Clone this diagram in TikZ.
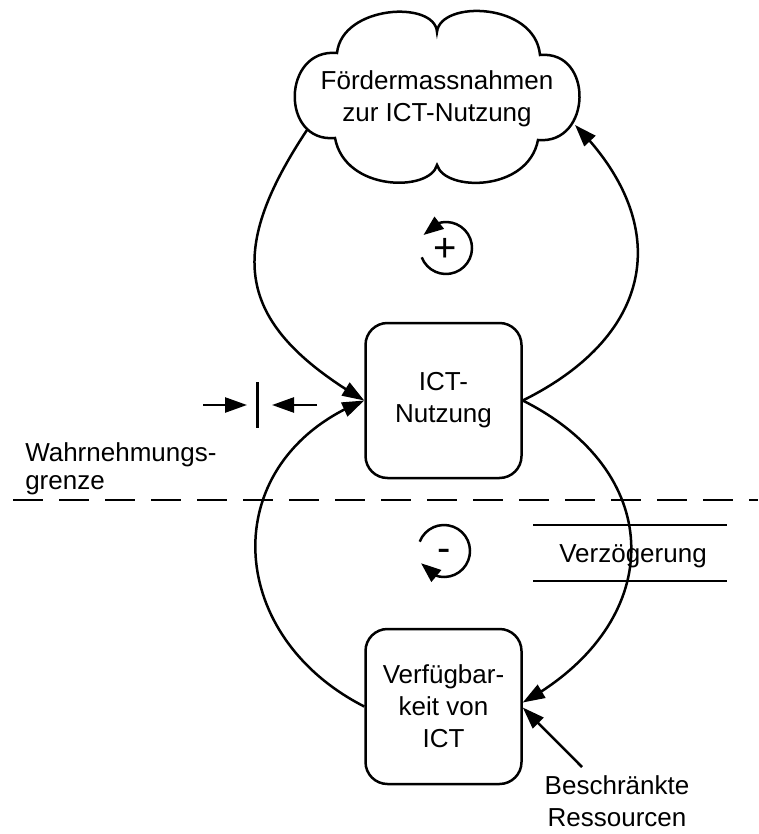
\documentclass[tikz,border=0pt]{standalone}
\usepackage{fontspec}
\setmainfont{Liberation Sans}
\usetikzlibrary{arrows.meta,calc,bending}
\begin{document}
\begin{tikzpicture}[x=1pt,y=-1pt,
  line width=2.5pt,
  every node/.style={font=\fontsize{26}{32}\selectfont, align=center, inner sep=0pt},
  stock/.style={draw, rounded corners=22pt, minimum width=156pt, minimum height=155pt},
  link/.style={-{Triangle[length=22pt,width=15pt]}},
  looparrow/.style={-{Triangle[length=20pt,width=15pt,flex]}},
  loopsign/.style={font=\fontsize{40}{40}\selectfont},
]
\useasboundingbox (0,0) rectangle (758,834);

% cloud outline of the policy measures
\draw (337,53) .. controls (342,5) and (435,0) .. (437,32)
  .. controls (440,0) and (535,2) .. (540,55)
  .. controls (594,50) and (592,145) .. (538,140)
  .. controls (528,192) and (445,192) .. (437,165)
  .. controls (430,192) and (345,192) .. (335,138)
  .. controls (280,143) and (282,48) .. (337,53) -- cycle;
\node (cloud) at (437,99) {Fördermassnahmen\\zur ICT-Nutzung};
\coordinate (cloudL) at (307,130);
\coordinate (cloudR) at (575,125);

% stocks
\node[stock] (ict) at (443.5,400.5) {ICT-\\Nutzung};
\node[stock] (verf) at (443.5,706.5) {Verfügbar-\\keit von\\ICT};

% perception boundary
\draw[dash pattern=on 30pt off 16pt] (13,500) coordinate (dl) -- (758,500) coordinate (dr);
\node[anchor=west, align=left, font=\fontsize{26}{28}\selectfont] (wg) at (24,469) {Wahrnehmungs-\\grenze};
\coordinate (pbA) at (203,405);
\coordinate (pbAt) at (247,405);
\coordinate (pbB) at (317,405);
\coordinate (pbBt) at (272,405);
\coordinate (barT) at (257,382);
\coordinate (barB) at (257,428);
\draw[link] (pbA) -- (pbAt);
\draw[link] (pbB) -- (pbBt);
\draw[line width=3pt] (barT) -- (barB);

% delay
\node (delay) at (633,556) {Verzögerung};
\draw ($(delay)+(-100,-31)$) -- ($(delay)+(94,-31)$);
\draw ($(delay)+(-100,25)$) -- ($(delay)+(94,25)$);

% limited resources
\node (res) at (617,801) {Beschränkte\\Ressourcen};
\coordinate (resA) at (582,767);

% reinforcing loop
\draw[link] (cloudL) .. controls (224.5,254.5) and (236,325) .. (ict.west);
\draw[link] (ict.east) .. controls (657,334) and (673,223) .. (cloudR);

% balancing loop
\draw[link] (ict.east) .. controls (669,474) and (666,624) .. ([yshift=4pt]verf.east);
\draw[link] (verf.west) .. controls (222,634) and (216,459) .. (ict.west);
\draw[link] (resA) -- ([yshift=-1pt]verf.east);

% loop polarity markers
\coordinate (posc) at (446,248);
\node[loopsign] (pos) at (445,250) {+};
\draw[looparrow] ([shift={(159:26)}]posc) arc[start angle=159, end angle=-150, radius=26];
\coordinate (negc) at (444,551);
\node[loopsign] (neg) at (444,555) {-};
\draw[looparrow] ([shift={(201:26)}]negc) arc[start angle=201, end angle=512, radius=26];
\end{tikzpicture}
\end{document}
